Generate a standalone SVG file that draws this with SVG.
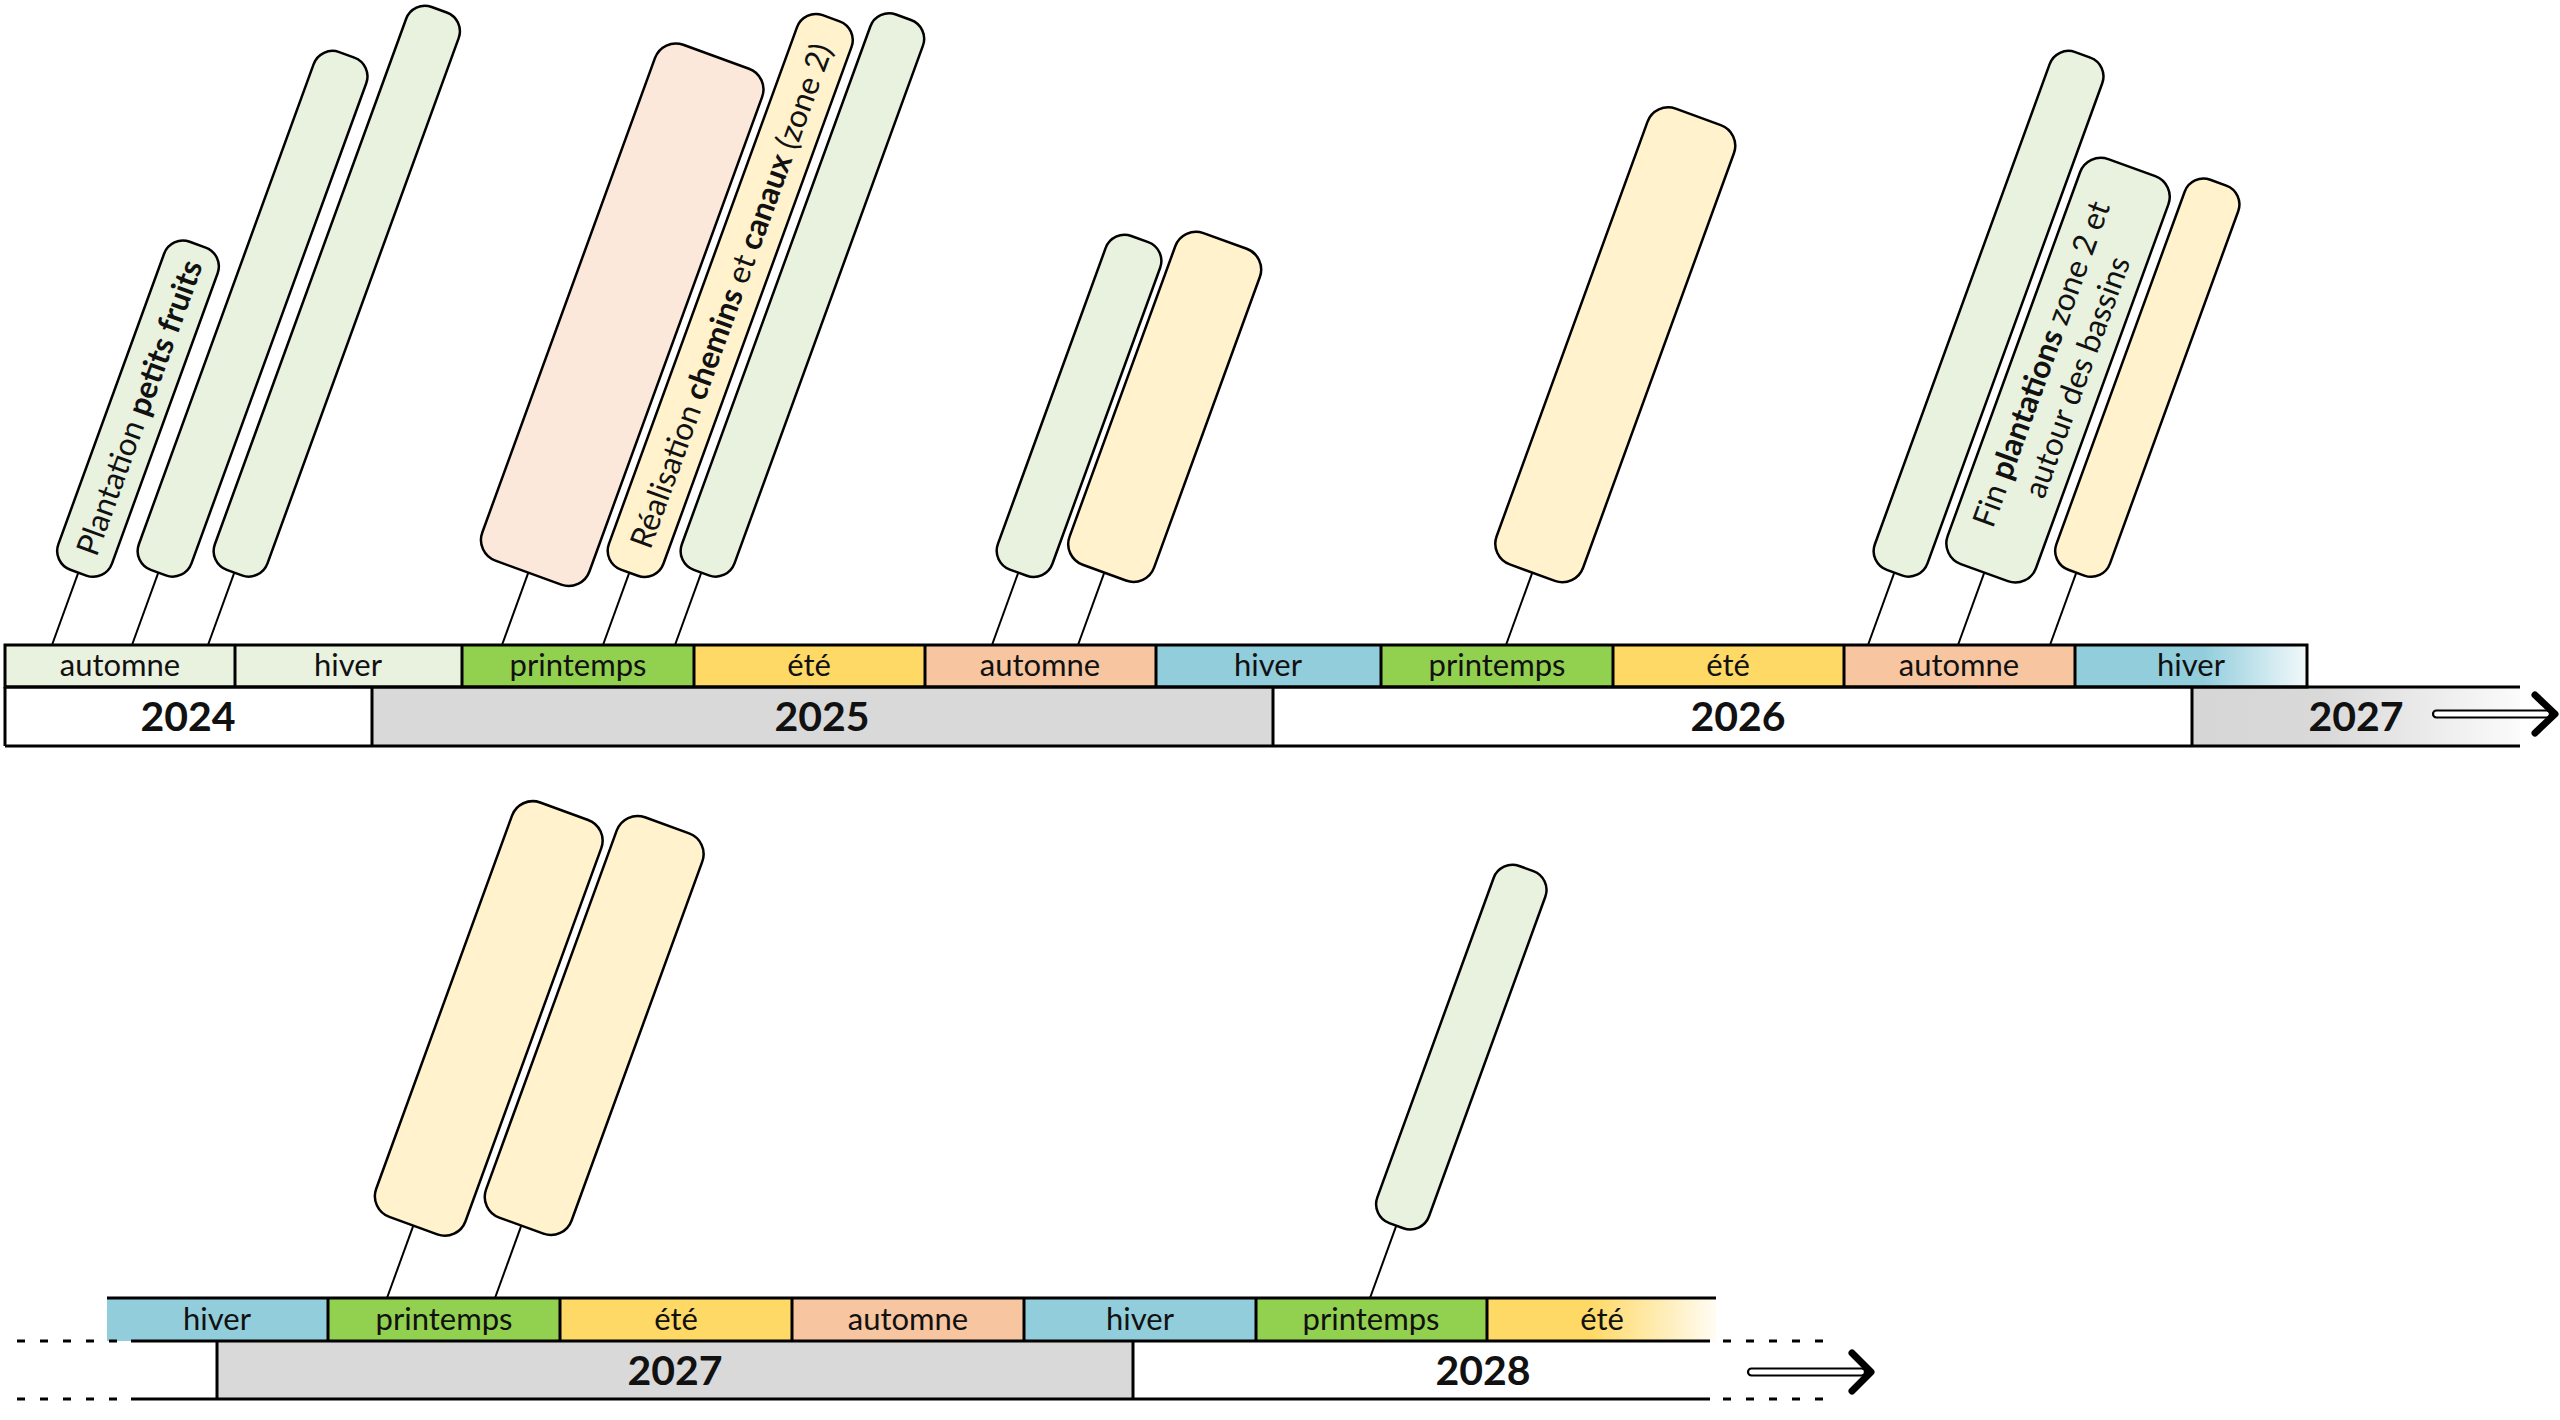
<svg xmlns="http://www.w3.org/2000/svg" width="2560" height="1420" viewBox="0 0 2560 1420">
<defs>
  <linearGradient id="gHiver" x1="0" y1="0" x2="1" y2="0">
    <stop offset="0" stop-color="#92cddc"/>
    <stop offset="0.55" stop-color="#92cddc"/>
    <stop offset="1" stop-color="#f2f9fb"/>
  </linearGradient>
  <linearGradient id="gGray" x1="0" y1="0" x2="1" y2="0">
    <stop offset="0" stop-color="#d6d6d6"/>
    <stop offset="0.4" stop-color="#d9d9d9"/>
    <stop offset="1" stop-color="#fbfbfb"/>
  </linearGradient>
  <linearGradient id="gEte" x1="0" y1="0" x2="1" y2="0">
    <stop offset="0" stop-color="#ffd966"/>
    <stop offset="0.45" stop-color="#ffd966"/>
    <stop offset="1" stop-color="#fffcf3"/>
  </linearGradient>
</defs>
<style>
  .ln { fill: none; stroke: #000; stroke-width: 3; }
  .dash { fill: none; stroke: #000; stroke-width: 3; stroke-dasharray: 8 15; }
  .season { font-family: Lato, "Liberation Sans", sans-serif; font-size: 31px; fill: #111; text-anchor: middle; }
  .year { font-family: Lato, "Liberation Sans", sans-serif; font-size: 41px; font-weight: bold; fill: #111; text-anchor: middle; }
  .box { stroke: #000; stroke-width: 2.5; }
  .g { fill: #e9f1df; }
  .y { fill: #fff2cc; }
  .p { fill: #fbe8da; }
  .stick { stroke: #000; stroke-width: 2; fill: none; }
  .lbl { font-family: Lato, "Liberation Sans", sans-serif; font-size: 31.5px; fill: #111; text-anchor: middle; dominant-baseline: central; }
  .b { font-weight: bold; }
  .arrShaft { fill: #fff; stroke: #000; stroke-width: 2.2; }
  .arrHead { fill: none; stroke: #000; stroke-width: 7; stroke-linecap: round; stroke-linejoin: round; }
</style>
<rect x="0" y="0" width="2560" height="1420" fill="#fff"/>

<!-- Top timeline -->
<g id="timeline-top">
  <rect x="5" y="645" width="230" height="42" fill="#e9f1df"/>
  <rect x="235" y="645" width="227" height="42" fill="#e9f1df"/>
  <rect x="462" y="645" width="232" height="42" fill="#92d050"/>
  <rect x="694" y="645" width="231" height="42" fill="#ffd966"/>
  <rect x="925" y="645" width="231" height="42" fill="#f7c59f"/>
  <rect x="1156" y="645" width="225" height="42" fill="#92cddc"/>
  <rect x="1381" y="645" width="232" height="42" fill="#92d050"/>
  <rect x="1613" y="645" width="231" height="42" fill="#ffd966"/>
  <rect x="1844" y="645" width="231" height="42" fill="#f7c59f"/>
  <rect x="2075" y="645" width="232" height="42" fill="url(#gHiver)"/>
  <rect x="372" y="687" width="901" height="59" fill="#d9d9d9"/>
  <rect x="2192" y="687" width="328" height="59" fill="url(#gGray)"/>
  <rect class="ln" x="5" y="645" width="2302" height="42"/>
  <path class="ln" d="M235 645V687M462 645V687M694 645V687M925 645V687M1156 645V687M1381 645V687M1613 645V687M1844 645V687M2075 645V687"/>
  <path class="ln" d="M5 687H2520M5 746H2520M5 687V746M372 687V746M1273 687V746M2192 687V746"/>
  <text class="season" x="120" y="676">automne</text>
  <text class="season" x="348" y="676">hiver</text>
  <text class="season" x="578" y="676">printemps</text>
  <text class="season" x="809" y="676">été</text>
  <text class="season" x="1040" y="676">automne</text>
  <text class="season" x="1268" y="676">hiver</text>
  <text class="season" x="1497" y="676">printemps</text>
  <text class="season" x="1728" y="676">été</text>
  <text class="season" x="1959" y="676">automne</text>
  <text class="season" x="2191" y="676">hiver</text>
  <text class="year" x="188" y="731">2024</text>
  <text class="year" x="822" y="731">2025</text>
  <text class="year" x="1738" y="731">2026</text>
  <text class="year" x="2356" y="731">2027</text>
  <rect class="arrShaft" x="2433" y="710.5" width="117" height="7" rx="3.5"/>
  <path class="arrHead" d="M2535 695L2555 714L2535 733"/>
</g>

<!-- Bottom timeline -->
<g id="timeline-bottom">
  <rect x="107" y="1298" width="221" height="43" fill="#92cddc"/>
  <rect x="328" y="1298" width="232" height="43" fill="#92d050"/>
  <rect x="560" y="1298" width="232" height="43" fill="#ffd966"/>
  <rect x="792" y="1298" width="232" height="43" fill="#f7c59f"/>
  <rect x="1024" y="1298" width="232" height="43" fill="#92cddc"/>
  <rect x="1256" y="1298" width="231" height="43" fill="#92d050"/>
  <rect x="1487" y="1298" width="229" height="43" fill="url(#gEte)"/>
  <rect x="217" y="1341" width="916" height="58" fill="#d9d9d9"/>
  <path class="ln" d="M107 1298H1716M328 1298V1341M560 1298V1341M792 1298V1341M1024 1298V1341M1256 1298V1341M1487 1298V1341"/>
  <path class="ln" d="M131 1341H1710M131 1399H1710M217 1341V1399M1133 1341V1399"/>
  <path class="dash" d="M17 1341H125M17 1399H125M1723 1341H1830M1723 1399H1830"/>
  <text class="season" x="217" y="1330">hiver</text>
  <text class="season" x="444" y="1330">printemps</text>
  <text class="season" x="676" y="1330">été</text>
  <text class="season" x="908" y="1330">automne</text>
  <text class="season" x="1140" y="1330">hiver</text>
  <text class="season" x="1371" y="1330">printemps</text>
  <text class="season" x="1602" y="1330">été</text>
  <text class="year" x="675" y="1385">2027</text>
  <text class="year" x="1483" y="1385">2028</text>
  <rect class="arrShaft" x="1748" y="1368.5" width="117" height="7" rx="3.5"/>
  <path class="arrHead" d="M1852 1353L1871 1372L1852 1391"/>
</g>

<!-- Connectors (sticks) -->
<g id="connectors">
  <line class="stick" x1="52" y1="645" x2="78.3" y2="572.6"/>
  <line class="stick" x1="132" y1="645" x2="158.3" y2="572.6"/>
  <line class="stick" x1="208" y1="645" x2="234.3" y2="572.6"/>
  <line class="stick" x1="502" y1="645" x2="528.3" y2="572.6"/>
  <line class="stick" x1="603" y1="645" x2="629.3" y2="572.6"/>
  <line class="stick" x1="675" y1="645" x2="701.3" y2="572.6"/>
  <line class="stick" x1="992" y1="645" x2="1018.3" y2="572.6"/>
  <line class="stick" x1="1078" y1="645" x2="1104.3" y2="572.6"/>
  <line class="stick" x1="1506" y1="645" x2="1532.3" y2="572.6"/>
  <line class="stick" x1="1868" y1="645" x2="1894.3" y2="572.6"/>
  <line class="stick" x1="1958" y1="645" x2="1984.3" y2="572.6"/>
  <line class="stick" x1="2050" y1="645" x2="2076.3" y2="572.6"/>
  <line class="stick" x1="387" y1="1298" x2="413.3" y2="1225.6"/>
  <line class="stick" x1="495" y1="1298" x2="521.3" y2="1225.6"/>
  <line class="stick" x1="1370" y1="1298" x2="1396.3" y2="1225.6"/>
</g>

<!-- Callout nodes -->
<g id="n1" transform="translate(52,645) rotate(20)">
  <rect class="box g" x="-28.5" y="-426" width="57" height="349" rx="20"/>
  <text class="lbl" transform="translate(0,-253) rotate(-90)">Plantation <tspan class="b">petits fruits</tspan></text>
</g>
<g id="n2" transform="translate(132,645) rotate(20)">
  <rect class="box g" x="-28" y="-628" width="56" height="551" rx="20"/>
</g>
<g id="n3" transform="translate(208,645) rotate(20)">
  <rect class="box g" x="-28" y="-676" width="56" height="599" rx="20"/>
</g>
<g id="n4" transform="translate(502,645) rotate(20)">
  <rect class="box p" x="-57" y="-626" width="114" height="549" rx="22"/>
</g>
<g id="n5" transform="translate(603,645) rotate(20)">
  <rect class="box y" x="-29" y="-667" width="58" height="590" rx="20"/>
  <text class="lbl" transform="translate(0,-372) rotate(-90)">Réalisation <tspan class="b">chemins</tspan> et <tspan class="b">canaux</tspan> (zone 2)</text>
</g>
<g id="n6" transform="translate(675,645) rotate(20)">
  <rect class="box g" x="-28" y="-668" width="56" height="591" rx="20"/>
</g>
<g id="n7" transform="translate(992,645) rotate(20)">
  <rect class="box g" x="-29" y="-432" width="58" height="355" rx="20"/>
</g>
<g id="n8" transform="translate(1078,645) rotate(20)">
  <rect class="box y" x="-45" y="-430" width="90" height="353" rx="22"/>
</g>
<g id="n9" transform="translate(1506,645) rotate(20)">
  <rect class="box y" x="-46" y="-562" width="92" height="485" rx="22"/>
</g>
<g id="n10" transform="translate(1868,645) rotate(20)">
  <rect class="box g" x="-28" y="-628" width="56" height="551" rx="20"/>
</g>
<g id="n11" transform="translate(1958,645) rotate(20)">
  <rect class="box g" x="-47" y="-508" width="94" height="431" rx="22"/>
  <text class="lbl" transform="translate(0,-292.5) rotate(-90)"><tspan x="0" y="-19">Fin <tspan class="b">plantations</tspan> zone 2 et</tspan><tspan x="0" y="19">autour des bassins</tspan></text>
</g>
<g id="n12" transform="translate(2050,645) rotate(20)">
  <rect class="box y" x="-28.5" y="-492" width="57" height="415" rx="20"/>
</g>
<g id="n13" transform="translate(387,1298) rotate(20)">
  <rect class="box y" x="-47.5" y="-518" width="95" height="441" rx="22"/>
</g>
<g id="n14" transform="translate(495,1298) rotate(20)">
  <rect class="box y" x="-45.5" y="-503" width="91" height="426" rx="22"/>
</g>
<g id="n15" transform="translate(1370,1298) rotate(20)">
  <rect class="box g" x="-27.5" y="-457" width="55" height="380" rx="20"/>
</g>
</svg>
